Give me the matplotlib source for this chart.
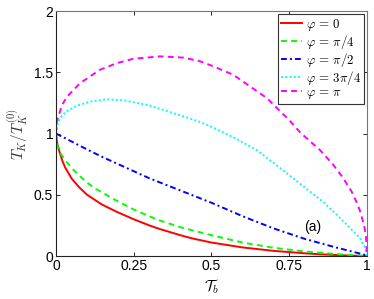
import matplotlib
matplotlib.use("Agg")
import matplotlib.pyplot as plt

plt.rcParams['mathtext.fontset'] = 'cm'
plt.rcParams['font.family'] = ['Liberation Sans', 'DejaVu Sans']

# phi = 0
t_red = [0.0, 0.003, 0.009, 0.02, 0.03, 0.051, 0.075, 0.1, 0.148, 0.196, 0.25, 0.3, 0.334, 0.4, 0.436, 0.5, 0.6, 0.7, 0.8, 0.85, 0.9, 0.95, 1.0]
v_red = [1.0, 0.93, 0.87, 0.78, 0.72, 0.63, 0.56, 0.50, 0.42, 0.36, 0.30, 0.25, 0.22, 0.17, 0.145, 0.11, 0.07, 0.042, 0.022, 0.014, 0.008, 0.003, 0.0]
# phi = pi/4
t_green = [0.0, 0.005, 0.014, 0.03, 0.05, 0.073, 0.1, 0.126, 0.148, 0.196, 0.25, 0.3, 0.334, 0.4, 0.5, 0.6, 0.7, 0.8, 0.85, 0.9, 0.95, 1.0]
v_green = [1.0, 0.9, 0.84, 0.78, 0.72, 0.66, 0.60, 0.55, 0.52, 0.45, 0.38, 0.325, 0.29, 0.235, 0.17, 0.11, 0.067, 0.037, 0.027, 0.016, 0.007, 0.0]
# phi = pi/2
t_blue = [0.0, 0.05, 0.1, 0.148, 0.2, 0.3, 0.4, 0.5, 0.6, 0.7, 0.8, 0.85, 0.9, 0.95, 1.0]
v_blue = [1.0, 0.935, 0.87, 0.81, 0.75, 0.635, 0.535, 0.435, 0.325, 0.225, 0.14, 0.105, 0.07, 0.038, 0.005]
# phi = 3pi/4
t_cyan = [0.0, 0.003, 0.009, 0.02, 0.04, 0.07, 0.109, 0.163, 0.22, 0.3, 0.41, 0.463, 0.5, 0.57, 0.646, 0.72, 0.8, 0.86, 0.91, 0.945, 0.977, 0.994, 1.0]
v_cyan = [1.0, 1.06, 1.10, 1.15, 1.19, 1.23, 1.26, 1.28, 1.27, 1.23, 1.14, 1.095, 1.055, 0.97, 0.865, 0.72, 0.56, 0.44, 0.32, 0.23, 0.15, 0.07, 0.0]
# phi = pi
t_mag = [0.0, 0.003, 0.019, 0.035, 0.077, 0.141, 0.196, 0.248, 0.334, 0.41, 0.463, 0.5, 0.57, 0.678, 0.75, 0.785, 0.849, 0.89, 0.92, 0.95, 0.965, 0.977, 0.99, 0.997, 1.0]
v_mag = [1.0, 1.10, 1.23, 1.30, 1.41, 1.52, 1.575, 1.61, 1.63, 1.62, 1.59, 1.555, 1.48, 1.29, 1.11, 1.01, 0.865, 0.75, 0.65, 0.53, 0.45, 0.375, 0.26, 0.17, 0.0]

labels = [r'$\varphi\,=\,0$', r'$\varphi\,=\,\pi/4$', r'$\varphi\,=\,\pi/2$',
          r'$\varphi\,=\,3\pi/4$', r'$\varphi\,=\,\pi$']
xticks = [0, 0.25, 0.5, 0.75, 1]
xticklabels = ['0', '0.25', '0.5', '0.75', '1']
yticks = [0, 0.5, 1, 1.5, 2]
yticklabels = ['0', '0.5', '1', '1.5', '2']

fig = plt.figure(figsize=(3.74, 2.99), dpi=100)
ax = fig.add_axes([0.1497, 0.1438, 0.8313, 0.8192])

lw = 1.4
ax.plot(t_red, v_red, color=(1, 0, 0), lw=lw, ls='-', label=labels[0])
ax.plot(t_green, v_green, color=(0, 1, 0), lw=lw, ls=(0, (3, 2.2)), label=labels[1])
ax.plot(t_blue, v_blue, color=(0, 0, 1), lw=lw, ls=(0, (3, 1.6, 1, 1.6)), label=labels[2])
ax.plot(t_cyan, v_cyan, color=(0, 1, 1), lw=lw, ls=(0, (1, 1.2)), label=labels[3])
ax.plot(t_mag, v_mag, color=(1, 0, 1), lw=lw, ls=(0, (3, 2.2)), label=labels[4])

ax.set_xlim(0, 1)
ax.set_ylim(0, 2)
ax.set_xticks(xticks)
ax.set_xticklabels(xticklabels)
ax.set_yticks(yticks)
ax.set_yticklabels(yticklabels)
ax.tick_params(direction='in', top=True, right=True, length=3, width=0.6,
               labelsize=10, pad=2)
for s in ['left', 'bottom']:
    ax.spines[s].set_color('#222222')
for s in ['top', 'right']:
    ax.spines[s].set_color('#777777')
for s in ax.spines.values():
    s.set_linewidth(0.8)

ax.set_xlabel(r'$\mathcal{T}_b$', fontsize=11, labelpad=3)
ax.set_ylabel(r'$T_K/T_K^{(0)}$', fontsize=11, labelpad=3, color='#333333')

ax.text(0.826, 0.237, '(a)', fontsize=10, ha='center', va='center')

leg = ax.legend(loc='upper right', fontsize=9.3, handlelength=1.6, handletextpad=0.3,
                borderpad=0.25, labelspacing=0.0, borderaxespad=0.2,
                fancybox=False, framealpha=1, edgecolor='#333333')
leg.get_frame().set_linewidth(0.8)

fig.savefig('out.png', dpi=100)
